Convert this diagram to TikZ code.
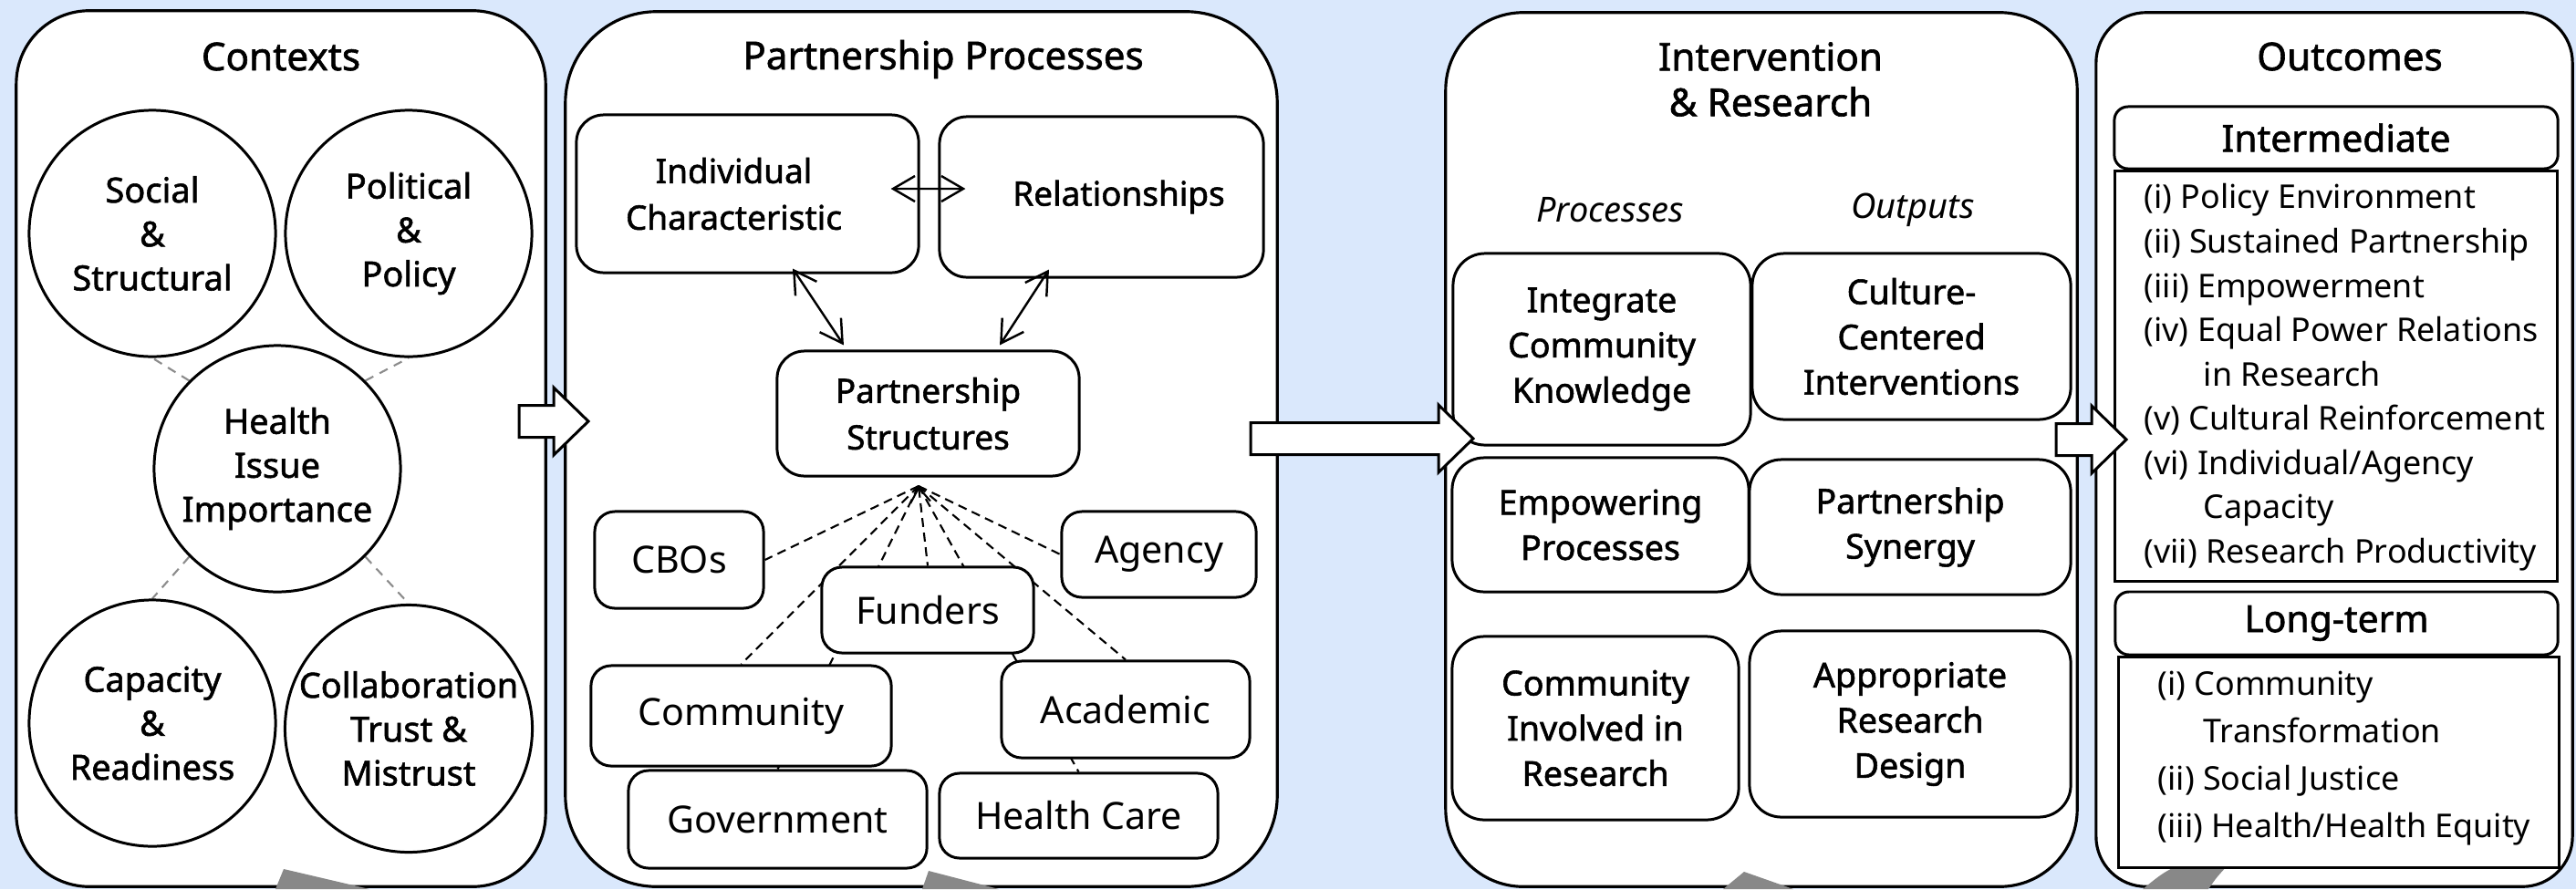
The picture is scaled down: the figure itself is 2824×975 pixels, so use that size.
\documentclass[tikz,border=0pt]{standalone}
\usepackage{fontspec}
\setmainfont{Noto Sans}
\newfontfamily\semib[FakeBold=1.5]{Noto Sans}
\usetikzlibrary{arrows.meta}
\pgfdeclarelayer{back}
\pgfdeclarelayer{links}
\pgfsetlayers{back,links,main}
\definecolor{bgblue}{HTML}{DAE8FC}
\definecolor{fbgray}{HTML}{888888}
\definecolor{linkgray}{HTML}{8C8C8C}
\tikzset{
  panel/.style={draw, fill=white, line width=0.9pt, rounded corners=#1, inner sep=0pt},
  paneltitle/.style={font=\semib\fontsize{12}{14.2}\selectfont, align=center, inner sep=0pt},
  ring/.style={circle, draw, fill=white, line width=0.85pt, minimum size=2.7cm, inner sep=0pt,
    align=center, font=\semib\fontsize{10.8}{13.7}\selectfont},
  ctxlink/.style={draw=linkgray, line width=0.6pt, dash pattern=on 2.8pt off 2.2pt},
  mainbox/.style={draw, fill=white, line width=0.85pt, rounded corners=0.3cm, inner sep=0pt,
    align=center, font=\semib\fontsize{10.5}{14.5}\selectfont},
  orgbox/.style={draw, fill=white, line width=0.85pt, rounded corners=0.22cm, inner sep=0pt,
    font=\fontsize{11.7}{14}\selectfont},
  orglink/.style={line width=0.6pt, dash pattern=on 2.8pt off 1.8pt},
  pairlink/.style={<->, line width=0.7pt},
  irbox/.style={draw, fill=white, line width=0.85pt, rounded corners=0.35cm, inner sep=0pt,
    align=center, font=\semib\fontsize{10.7}{14.1}\selectfont},
  colhead/.style={font=\itshape\fontsize{10.8}{13}\selectfont, inner sep=0pt},
  hdr/.style={draw, fill=white, line width=0.85pt, rounded corners=0.15cm, inner sep=0pt,
    font=\semib\fontsize{11.6}{14}\selectfont},
  listbox/.style={draw, fill=white, line width=0.85pt, inner sep=0pt},
  listtext/.style={align=left, inner sep=0pt, font=\fontsize{10.2}{13.8}\selectfont},
  bigarrow/.style={draw, fill=white, line width=0.85pt, line join=miter},
  >={Straight Barb[length=2.4mm,width=2.8mm]},
}
% start x, tip x, middle y
\newcommand\blockarrow[3]{%
  \draw[bigarrow] (#1,{#3-17.5}) -- ({#2-38},{#3-17.5}) -- ({#2-38},{#3-37}) -- (#2,#3)
    -- ({#2-38},{#3+37}) -- ({#2-38},{#3+17.5}) -- (#1,{#3+17.5}) -- cycle;}
\begin{document}
\begin{tikzpicture}[x=0.01cm, y=-0.01cm]
  % canvas and the four panels
  \begin{pgfonlayer}{back}
    \fill[bgblue] (0,0) rectangle (2824,975);
    \node[panel=0.8cm, minimum width=5.8cm, minimum height=9.6cm] (ctx) at (308,492) {};
    \node[panel=1cm, minimum width=7.8cm, minimum height=9.59cm] (pp) at (1010,492.5) {};
    \node[panel=0.85cm, minimum width=6.92cm, minimum height=9.58cm] (ir) at (1931,493) {};
    \node[panel=0.55cm, minimum width=5.22cm, minimum height=9.58cm] (out) at (2559,493) {};
    % feedback arrow, cut off at the bottom
    \fill[fbgray] (302,975) -- (311,953) -- (405,975) -- cycle;
    \fill[fbgray] (1011,975) -- (1018,955) -- (1095,975) -- cycle;
    \fill[fbgray] (1889,975) -- (1912,956) -- (1966,975) -- cycle;
    \fill[fbgray] (2389,948) .. controls (2370,958) .. (2349,975) -- (2421,975)
      .. controls (2430,962) .. (2443,948) -- cycle;
  \end{pgfonlayer}
  \useasboundingbox (0,0) rectangle (2824,975);

  \node[paneltitle] (ctxtitle) at (308,62) {Contexts};
  \node[paneltitle] (pptitle) at (1034,65) {Partnership Processes};
  \node[paneltitle] (irtitle) at (1941,87) {Intervention\\\& Research};
  \node[paneltitle] (outtitle) at (2576,62) {Outcomes};

  % contexts
  \node[ring] (social) at (167,256) {Social\\\&\\Structural};
  \node[ring] (political) at (448,256) {Political\\\&\\Policy};
  \node[ring] (health) at (304,514) {Health\\Issue\\Importance};
  \node[ring] (capacity) at (167,793) {Capacity\\\&\\Readiness};
  \node[ring] (collab) at (448,799) {Collaboration\\Trust \&\\Mistrust};

  % partnership processes
  \node[mainbox, minimum width=3.75cm, minimum height=1.73cm] (indiv) at (819.5,212.5)
    {\hspace*{-0.3cm}Individual\\\hspace*{-0.3cm}Characteristic};
  \node[mainbox, minimum width=3.55cm, minimum height=1.76cm] (rel) at (1207.5,216)
    {\hspace*{0.38cm}Relationships};
  \node[mainbox, minimum width=3.31cm, minimum height=1.37cm] (pstruct) at (1017.5,453.5) {Partnership\\Structures};
  \coordinate (apex) at (1007,533);
  \node[orgbox, minimum width=1.85cm, minimum height=1.06cm] (cbos) at (744.5,614) {CBOs};
  \node[orgbox, minimum width=2.13cm, minimum height=0.94cm] (agency) at (1270.5,608) {Agency};
  \node[orgbox, minimum width=2.32cm, minimum height=0.94cm] (funders) at (1017,669) {Funders};
  \node[orgbox, minimum width=3.29cm, minimum height=1.10cm] (community) at (812.5,785) {Community};
  \node[orgbox, minimum width=2.72cm, minimum height=1.06cm] (academic) at (1234,778) {Academic};
  \node[orgbox, minimum width=3.27cm, minimum height=1.07cm] (government) at (852.5,898.5) {Government};
  \node[orgbox, minimum width=3.05cm, minimum height=0.93cm] (healthcare) at (1182.5,894.5) {Health Care};

  \draw[pairlink] ([xshift=-0.32cm, yshift=0.055cm]indiv.east) -- ([xshift=0.3cm, yshift=0.09cm]rel.west);
  \draw[pairlink] ([xshift=0.495cm, yshift=0.06cm]indiv.south) -- ([xshift=-0.925cm, yshift=0.05cm]pstruct.north);
  \draw[pairlink] ([xshift=-0.575cm, yshift=0.1cm]rel.south) -- ([xshift=0.785cm, yshift=0.05cm]pstruct.north);

  % intervention & research
  \node[colhead] (proc) at (1765,230) {Processes};
  \node[colhead] (outp) at (2097,230) {Outputs};
  \node[irbox, minimum width=3.26cm, minimum height=2.10cm] (integ) at (1756,383) {Integrate\\Community\\Knowledge};
  \node[irbox, minimum width=3.49cm, minimum height=1.82cm] (culture) at (2095.5,369) {Culture-\\Centered\\Interventions};
  \node[irbox, minimum width=3.25cm, minimum height=1.47cm] (empow) at (1754.5,575.5) {Empowering\\Processes};
  \node[irbox, minimum width=3.52cm, minimum height=1.48cm] (synergy) at (2094,578) {Partnership\\Synergy};
  \node[irbox, minimum width=3.14cm, minimum height=2.01cm] (involved) at (1749,798.5) {Community\\Involved in\\Research};
  \node[irbox, minimum width=3.52cm, minimum height=2.04cm] (design) at (2094,794) {Appropriate\\Research\\Design};

  % outcomes
  \node[hdr, minimum width=4.86cm, minimum height=0.68cm] (inter) at (2561,151) {Intermediate};
  \node[listbox, minimum width=4.84cm, minimum height=4.49cm] (interlist) at (2561,412.5) {};
  \node[listtext, anchor=north west] (intertext) at (2350,201) {%
    (i) Policy Environment\\(ii) Sustained Partnership\\(iii) Empowerment\\%
    (iv) Equal Power Relations\\\hspace*{0.65cm}in Research\\(v) Cultural Reinforcement\\%
    (vi) Individual/Agency\\\hspace*{0.65cm}Capacity\\(vii) Research Productivity};
  \node[hdr, minimum width=4.85cm, minimum height=0.69cm] (longterm) at (2561.5,683.5) {Long-term};
  \node[listbox, minimum width=4.82cm, minimum height=2.3cm] (ltlist) at (2564,836) {};
  \node[listtext, anchor=north west, font=\fontsize{10.2}{14.8}\selectfont] (lttext) at (2365,735) {%
    (i) Community\\\hspace*{0.5cm}Transformation\\(ii) Social Justice\\(iii) Health/Health Equity};

  % dashed links
  \begin{pgfonlayer}{links}
    \draw[ctxlink] (health.135) -- (social.south);
    \draw[ctxlink] (health.45) -- (political.south);
    \draw[ctxlink] (health.225) -- (capacity.north);
    \draw[ctxlink] (health.315) -- (collab.north);
    \foreach \org in {cbos.east, community.north, government.north, healthcare.north, academic.north, agency.west}
      \draw[orglink] (apex) -- (\org);
    \draw[orglink, {Straight Barb[length=1.6mm,width=2.2mm]}-] (apex) -- (funders.north);
  \end{pgfonlayer}

  % flow between panels
  \blockarrow{569}{645}{462}
  \blockarrow{1371}{1615}{481}
  \blockarrow{2254}{2331}{482}
\end{tikzpicture}
\end{document}
